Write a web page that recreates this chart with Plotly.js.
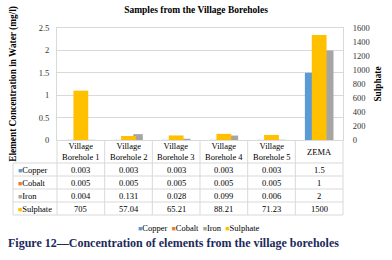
<!DOCTYPE html>
<html>
<head>
<meta charset="utf-8">
<script src="https://cdn.plot.ly/plotly-3.0.1.min.js"></script>
<style>html,body{margin:0;padding:0;background:#fff;}#chart{width:392px;height:260px;}</style>
</head>
<body>
<div id="chart"></div>
<script>
const categories = ['Village Borehole 1', 'Village Borehole 2', 'Village Borehole 3', 'Village Borehole 4', 'Village Borehole 5', 'ZEMA'];
const headerLabels = ['Village<br>Borehole 1', 'Village<br>Borehole 2', 'Village<br>Borehole 3', 'Village<br>Borehole 4', 'Village<br>Borehole 5', 'ZEMA'];
const seriesNames = ['Copper', 'Cobalt', 'Iron', 'Sulphate'];
const copper = [0.003, 0.003, 0.003, 0.003, 0.003, 1.5];
const cobalt = [0.005, 0.005, 0.005, 0.005, 0.005, 1];
const iron = [0.004, 0.131, 0.028, 0.099, 0.006, 2];
const sulphate = [705, 57.04, 65.21, 88.21, 71.23, 1500];
const seriesValues = [copper, cobalt, iron, sulphate];
const titleText = 'Samples from the Village Boreholes';
const yTitle = 'Element Concentration in Water (mg/l)';
const y2Title = 'Sulphate';
const captionText = 'Figure 12\u2014Concentration of elements from the village boreholes';

const colors = ['#5B9BD5', '#ED7D31', '#A5A5A5', '#FFC000'];
const serif = 'Liberation Serif, Times New Roman, serif';
const gridC = '#d9d9d9';

// pixel geometry helpers
const W = 392, H = 260, L = 57, R = 343, T = 28, B = 140;
const px = x => (x - L) / (R - L);
const py = y => (B - y) / (B - T);

const traces = [
  {type: 'bar', name: seriesNames[0], x: categories, y: copper, marker: {color: colors[0]}, width: 0.2, offset: -0.3, yaxis: 'y'},
  {type: 'bar', name: seriesNames[1], x: categories, y: cobalt, marker: {color: colors[1]}, width: 0.2, offset: -0.1, yaxis: 'y'},
  {type: 'bar', name: seriesNames[2], x: categories, y: iron, marker: {color: colors[2]}, width: 0.2, offset: 0.1, yaxis: 'y'},
  {type: 'bar', name: seriesNames[3], x: categories, y: sulphate, marker: {color: colors[3]}, width: 0.31, offset: -0.155, yaxis: 'y2'}
];

const annotations = [];
const shapes = [];
const line = {color: gridC, width: 1};

// header row
categories.forEach((c, i) => {
  annotations.push({xref: 'x', yref: 'paper', x: c, y: py(151.5), text: headerLabels[i], showarrow: false,
    xanchor: 'center', yanchor: 'middle', font: {family: serif, size: 8.5, color: '#000'}});
});
const rowCenters = [169.5, 182.5, 195.5, 208.5];
seriesValues.forEach((vals, r) => {
  annotations.push({xref: 'paper', yref: 'paper', x: px(15.5), y: py(rowCenters[r]), showarrow: false,
    xanchor: 'left', yanchor: 'middle',
    text: '<span style="color:' + colors[r] + ';font-size:7px">\u25A0</span>' + seriesNames[r],
    font: {family: serif, size: 8.5, color: '#000'}});
  vals.forEach((v, i) => {
    annotations.push({xref: 'x', yref: 'paper', x: categories[i], y: py(rowCenters[r]), text: String(v), showarrow: false,
      xanchor: 'center', yanchor: 'middle', font: {family: serif, size: 8.5, color: '#000'}});
  });
});
// table lines
[163, 176, 189, 202, 215].forEach(yy => {
  shapes.push({type: 'line', xref: 'paper', yref: 'paper', x0: px(13), x1: 1, y0: py(yy), y1: py(yy), line: line});
});
for (let k = 0; k <= categories.length; k++) {
  shapes.push({type: 'line', xref: 'paper', yref: 'paper', x0: k / categories.length, x1: k / categories.length, y0: 0, y1: py(215), line: line});
}
shapes.push({type: 'line', xref: 'paper', yref: 'paper', x0: px(13), x1: px(13), y0: py(163), y1: py(215), line: line});

// legend
annotations.push({xref: 'paper', yref: 'paper', x: px(199), y: py(228), showarrow: false, xanchor: 'center', yanchor: 'middle',
  text: seriesNames.map((n, i) => '<span style="color:' + colors[i] + ';font-size:7px">\u25A0</span>' + n).join('  '),
  font: {family: serif, size: 8.5, color: '#000'}});
// caption
annotations.push({xref: 'paper', yref: 'paper', x: px(6), y: py(243), showarrow: false, xanchor: 'left', yanchor: 'middle',
  text: '<b>' + captionText + '</b>', font: {family: serif, size: 12, color: '#1c2a5a'}});

const layout = {
  width: W, height: H,
  margin: {l: L, r: W - R, t: T, b: H - B, pad: 0},
  paper_bgcolor: '#fff', plot_bgcolor: '#fff',
  showlegend: false,
  title: {text: '<b>' + titleText + '</b>', x: 0.5, xref: 'container', y: 1 - 10 / H, yref: 'container', yanchor: 'middle',
    font: {family: serif, size: 9.5, color: '#000'}},
  xaxis: {type: 'category', range: [-0.5, 5.5], showticklabels: false, ticks: '', showgrid: false, zeroline: false,
    showline: true, mirror: true, linecolor: gridC, linewidth: 1, fixedrange: true},
  yaxis: {range: [0, 2.5], dtick: 0.5, showgrid: true, gridcolor: gridC, gridwidth: 1, zeroline: false,
    showline: true, mirror: true, linecolor: gridC, linewidth: 1, automargin: false,
    ticks: 'outside', ticklen: 5, tickcolor: 'rgba(0,0,0,0)',
    tickfont: {family: serif, size: 8.5, color: '#333'},
    title: {text: '<b>' + yTitle + '</b>', font: {family: serif, size: 9.3, color: '#000'}, standoff: 20}},
  yaxis2: {range: [0, 1600], dtick: 200, overlaying: 'y', side: 'right', showgrid: false, zeroline: false, showline: false,
    automargin: false, ticks: 'outside', ticklen: 7, tickcolor: 'rgba(0,0,0,0)',
    tickfont: {family: serif, size: 8.5, color: '#333'},
    title: {text: '<b>' + y2Title + '</b>', font: {family: serif, size: 9.3, color: '#000'}, standoff: 5}},
  annotations: annotations,
  shapes: shapes
};

Plotly.newPlot('chart', traces, layout, {staticPlot: true, displayModeBar: false});
</script>
</body>
</html>
